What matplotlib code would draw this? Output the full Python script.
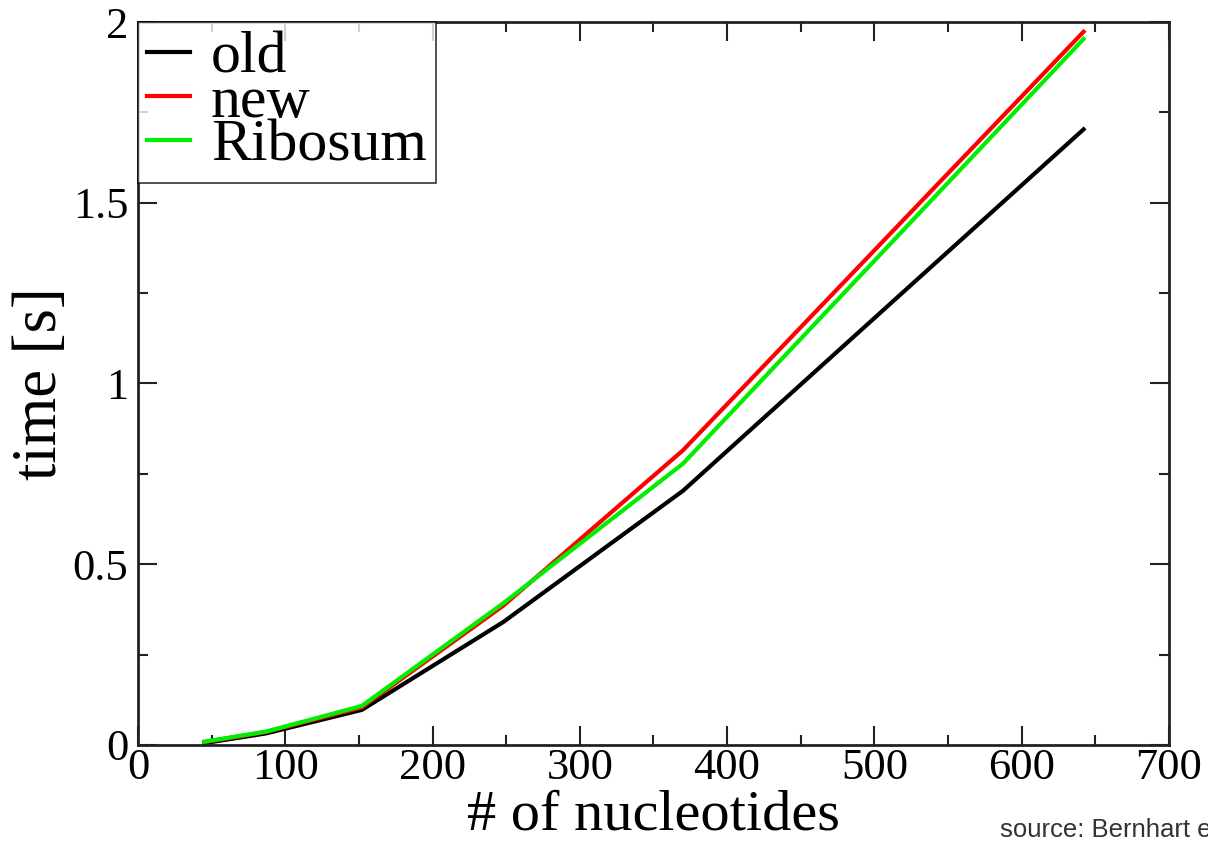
import matplotlib
matplotlib.use("Agg")
import matplotlib.pyplot as plt
from matplotlib.ticker import MultipleLocator

nucleotides = [45, 87, 152, 248, 370, 642]
old = [0.005, 0.032, 0.097, 0.340, 0.703, 1.703]
new = [0.008, 0.036, 0.104, 0.385, 0.815, 1.973]
ribosum = [0.009, 0.037, 0.108, 0.392, 0.778, 1.953]

x_label = "# of nucleotides"
y_label = "time [s]"
source_text = "source: Bernhart et al."

plt.rcParams['font.family'] = ['Liberation Serif', 'DejaVu Serif']

fig = plt.figure(figsize=(12.08, 8.43), dpi=100)
ax = fig.add_axes([0.1142, 0.1163, 0.9677 - 0.1142, 0.9739 - 0.1163])

ax.plot(nucleotides, old, color='black', lw=3, label='old', solid_joinstyle='round')
ax.plot(nucleotides, new, color='#ff0000', lw=3, label='new', solid_joinstyle='round')
ax.plot(nucleotides, ribosum, color='#00ee00', lw=3, label='Ribosum', solid_joinstyle='round')

ax.set_xlim(0, 700)
ax.set_ylim(0, 2)
ax.xaxis.set_major_locator(MultipleLocator(100))
ax.xaxis.set_minor_locator(MultipleLocator(50))
ax.yaxis.set_major_locator(MultipleLocator(0.5))
ax.yaxis.set_minor_locator(MultipleLocator(0.25))
ax.yaxis.set_major_formatter(plt.FuncFormatter(lambda v, p: f"{v:g}"))

ax.tick_params(which='both', direction='in', top=True, right=True, width=1.5, color='#222222')
ax.tick_params(which='major', length=14, labelsize=32)
ax.tick_params(which='minor', length=7)
ax.tick_params(axis='x', which='major', pad=2)
ax.tick_params(axis='y', which='major', pad=7)
for s in ax.spines.values():
    s.set_linewidth(2)
    s.set_color('#222222')

ax.set_xlabel(x_label, fontsize=42, labelpad=1)
ax.set_ylabel(y_label, fontsize=45, labelpad=2)

leg = ax.legend(loc='upper left', borderaxespad=0, fontsize=43, frameon=True,
                fancybox=False, handlelength=0.72, handletextpad=0.35,
                labelspacing=-0.18, borderpad=0.15)
leg.get_frame().set_edgecolor('black')
leg.get_frame().set_linewidth(1.2)
for line in leg.get_lines():
    line.set_linewidth(3)

fig.text(1000 / 1208, 1 - 830 / 843, source_text, fontsize=18.5, color='#333333',
         family='Liberation Sans', va='center', ha='left')

fig.savefig('out.png', dpi=100)
